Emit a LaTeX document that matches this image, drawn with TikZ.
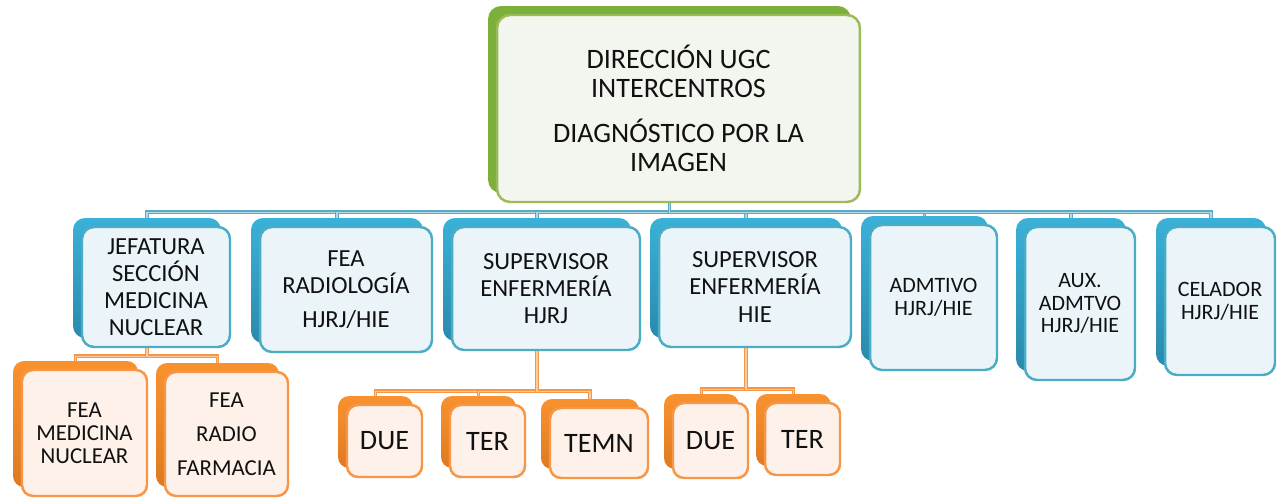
\documentclass[tikz,border=0pt]{standalone}
\usepackage{fontspec}
\setmainfont{Carlito}
\usetikzlibrary{shadows,backgrounds}

\definecolor{greenline}{HTML}{9BBB59}
\definecolor{greenback}{HTML}{7DAF3B}
\definecolor{greenfill}{HTML}{F3F6EE}
\definecolor{blueline}{HTML}{4BACC6}
\definecolor{blueback}{HTML}{3AB1D8}
\definecolor{bluedark}{HTML}{2A8AAC}
\definecolor{bluefill}{HTML}{EAF4F9}
\definecolor{bluelink}{HTML}{5AA9C6}
\definecolor{orangeline}{HTML}{F79646}
\definecolor{orangeback}{HTML}{F8922F}
\definecolor{orangedark}{HTML}{E07A22}
\definecolor{orangefill}{HTML}{FDF1E9}
\definecolor{inktext}{HTML}{111111}

\tikzset{head box/.style={draw=greenline,fill=greenfill,line width=1.4pt,rounded corners=0.26cm,align=center,inner sep=0pt,text=inktext,font=\fontsize{16}{16.5}\selectfont,
  general shadow={fill=greenback,shadow xshift=-0.18cm,shadow yshift=0.18cm}},
staff box/.style={draw=blueline,fill=bluefill,line width=1.4pt,rounded corners=0.24cm,align=center,inner sep=0pt,text=inktext,font=\fontsize{14}{15.4}\selectfont,
  general shadow={top color=blueback,bottom color=bluedark,shadow xshift=-0.18cm,shadow yshift=0.18cm}},
desk box/.style={staff box,font=\fontsize{12.5}{13}\selectfont},
sub box/.style={draw=orangeline,fill=orangefill,line width=1.4pt,rounded corners=0.22cm,align=center,inner sep=0pt,text=inktext,font=\fontsize{16}{18}\selectfont,
  general shadow={top color=orangeback,bottom color=orangedark,shadow xshift=-0.18cm,shadow yshift=0.18cm}},
sub small/.style={sub box,font=\fontsize{13}{13.2}\selectfont},
blue link/.style={draw=bluelink,line width=0.7pt,double=bluelink!45,double distance=0.6pt},
orange link/.style={draw=orangeline,line width=0.7pt,double=orangeline!50,double distance=0.6pt}}

\begin{document}
\begin{tikzpicture}[x=0.02cm,y=-0.02cm]
\useasboundingbox (0,0) rectangle (1280,497);

%% Coordinates of box centres (pixel grid).
\coordinate (c0) at (678.5,108.5);
\coordinate (c1) at (156,287);
\coordinate (c2) at (346,289.5);
\coordinate (c3) at (546,288.5);
\coordinate (c4) at (755,287);
\coordinate (c5) at (933.5,297.5);
\coordinate (c6) at (1080,303.5);
\coordinate (c7) at (1220,301);
\coordinate (c8) at (84.5,433);
\coordinate (c9) at (226.5,434);
\coordinate (c10) at (384.5,441);
\coordinate (c11) at (487.5,441);
\coordinate (c12) at (599,443);
\coordinate (c13) at (710.5,440.5);
\coordinate (c14) at (802.5,439);

%% head
\node [head box,minimum width=7.26cm,minimum height=3.74cm] (dir) at (c0) {DIRECCIÓN UGC\\INTERCENTROS\\[9pt]DIAGNÓSTICO POR LA\\IMAGEN};

%% second row
\node [staff box,minimum width=2.96cm,minimum height=2.40cm] (jef) at (c1) {JEFATURA\\SECCIÓN\\MEDICINA\\NUCLEAR};
\node [staff box,minimum width=3.44cm,minimum height=2.50cm] (fea) at (c2) {FEA\\RADIOLOGÍA\\[4pt]HJRJ/HIE};
\node [staff box,minimum width=3.76cm,minimum height=2.46cm] (supa) at (c3) {SUPERVISOR\\ENFERMERÍA\\HJRJ};
\node [staff box,minimum width=3.84cm,minimum height=2.40cm] (supb) at (c4) {SUPERVISOR\\ENFERMERÍA\\HIE};
\node [desk box,minimum width=2.54cm,minimum height=2.90cm] (adm) at (c5) {ADMTIVO\\HJRJ/HIE};
\node [desk box,minimum width=2.20cm,minimum height=3.06cm] (aux) at (c6) {AUX.\\ADMTVO\\HJRJ/HIE};
\node [desk box,minimum width=2.20cm,minimum height=2.96cm] (cel) at (c7) {CELADOR\\HJRJ/HIE};

%% third row
\node [sub small,minimum width=2.50cm,minimum height=2.52cm] (feamn) at (c8) {FEA\\MEDICINA\\NUCLEAR};
\node [sub small,font=\fontsize{13}{19.3}\selectfont,minimum width=2.46cm,minimum height=2.48cm] (feafr) at (c9) {FEA\\RADIO\\FARMACIA};
\node [sub box,minimum width=1.50cm,minimum height=1.44cm] (duea) at (c10) {DUE};
\node [sub box,minimum width=1.50cm,minimum height=1.44cm] (tera) at (c11) {TER};
\node [sub box,minimum width=1.96cm,minimum height=1.40cm] (temn) at (c12) {TEMN};
\node [sub box,minimum width=1.50cm,minimum height=1.50cm] (dueb) at (c13) {DUE};
\node [sub box,minimum width=1.50cm,minimum height=1.44cm] (terb) at (c14) {TER};

%% connectors, behind the boxes
\begin{scope}[on background layer]
\fill [white] (0,0) rectangle (1280,497);
\foreach \n in {jef,fea,supa,supb,adm,aux,cel}
  \draw [blue link] ([xshift=-0.18cm]dir.south) -- ++(0,9) -| ([xshift=-0.18cm]\n.north);
\foreach \n in {feamn,feafr}
  \draw [orange link] ([xshift=-0.18cm]jef.south) -- ++(0,8) -| ([xshift=-0.18cm]\n.north);
\foreach \n in {duea,tera,temn}
  \draw [orange link] ([xshift=-0.18cm]supa.south) -- ++(0,40) -| ([xshift=-0.18cm]\n.north);
\foreach \n in {dueb,terb}
  \draw [orange link] ([xshift=-0.18cm]supb.south) -- ++(0,41) -| ([xshift=-0.18cm]\n.north);
\end{scope}

\end{tikzpicture}
\end{document}
